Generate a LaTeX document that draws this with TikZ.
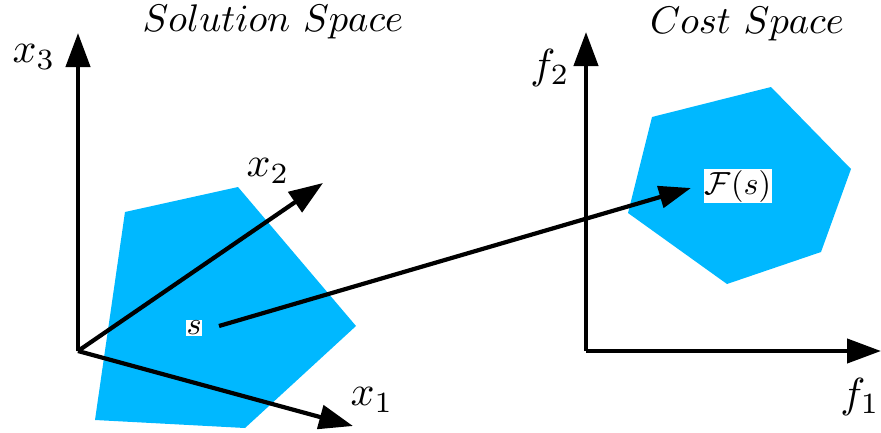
\documentclass[tikz,border=0pt]{standalone}
\usetikzlibrary{arrows.meta}
\definecolor{region}{RGB}{0,184,255}
\tikzset{
  axis/.style={line width=4.2pt, -{Triangle[length=34pt,width=24pt]}},
  maparrow/.style={line width=4.2pt, -{Triangle[length=32pt,width=22pt]}},
  axlabel/.style={scale=4.2, inner sep=0pt},
  title/.style={scale=3.85, inner sep=0pt},
  ptlabel/.style={scale=3.2, fill=white, inner sep=0.2pt}
}
\begin{document}
\begin{tikzpicture}[x=1pt,y=-1pt]
\useasboundingbox (0,0) rectangle (881,432);
% regions
\fill[region] (125,212) -- (238,187) -- (356,326) -- (245,428) -- (95,420) -- cycle;
\fill[region] (652,117) -- (771,87) -- (851,169) -- (821,252) -- (727,284) -- (628,213) -- cycle;
% left axes
\coordinate (O1) at (78,351);
\coordinate (x3tip) at (78,33);
\coordinate (x2tip) at (323,183);
\coordinate (x1tip) at (353,426);
\draw[axis] (O1) -- (x3tip);
\draw[axis] (O1) -- (x2tip);
\draw[axis] (O1) -- (x1tip);
\node[axlabel] (lx3) at (34,57) {$x_3$};
\node[axlabel] (lx2) at (268,171) {$x_2$};
\node[axlabel] (lx1) at (372,400) {$x_1$};
\node[title] (t1) at (273,22) {$Solution\ Space$};
% right axes
\coordinate (O2) at (586,351);
\coordinate (f2tip) at (586,32);
\coordinate (f1tip) at (881,351);
\draw[axis] (O2) -- (f2tip);
\draw[axis] (O2) -- (f1tip);
\node[axlabel] (lf2) at (550,68) {$f_2$};
\node[axlabel] (lf1) at (860,397) {$f_1$};
\node[title] (t2) at (747,24) {$Cost\ Space$};
% mapping
\node[ptlabel] (s) at (194,328) {$s$};
\node[ptlabel] (Fs) at (738,186) {$\mathcal{F}(s)$};
\coordinate (sstart) at (219,326);
\coordinate (ftip) at (691,188);
\draw[maparrow] (sstart) -- (ftip);
\end{tikzpicture}
\end{document}
